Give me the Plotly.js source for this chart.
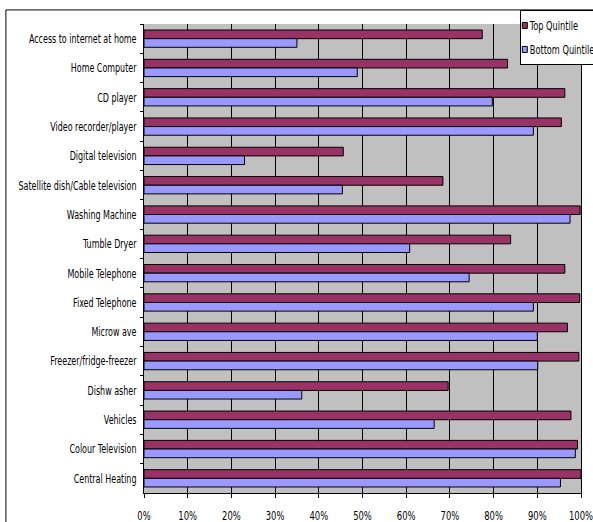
<!DOCTYPE html>
<html>
<head>
<meta charset="utf-8">
<script src="https://cdn.plot.ly/plotly-3.0.1.min.js"></script>
<style>
html,body{margin:0;padding:0;background:#fff;overflow:hidden;}
#chart{width:593px;height:522px;}
</style>
</head>
<body>
<div id="chart"></div>
<script>
const categories = [
  "Access to internet at home",
  "Home Computer",
  "CD player",
  "Video recorder/player",
  "Digital television",
  "Satellite dish/Cable television",
  "Washing Machine",
  "Tumble Dryer",
  "Mobile Telephone",
  "Fixed Telephone",
  "Microw ave",
  "Freezer/fridge-freezer",
  "Dishw asher",
  "Vehicles",
  "Colour Television",
  "Central Heating"
];
const topQuintile = [77.4, 83.2, 96.3, 95.5, 45.6, 68.4, 99.8, 83.9, 96.3, 99.7, 96.9, 99.5, 69.6, 97.7, 99.2, 100];
const bottomQuintile = [35.0, 48.8, 79.7, 89.1, 23.0, 45.4, 97.5, 60.8, 74.4, 89.1, 90.0, 90.1, 36.1, 66.4, 98.7, 95.3];
const seriesNames = ["Top Quintile", "Bottom Quintile"];
const tickVals = [0,10,20,30,40,50,60,70,80,90,100];
const tickText = ["0%","10%","20%","30%","40%","50%","60%","70%","80%","90%","100%"];

const FONT = "'DejaVu Sans Condensed', 'Liberation Sans', Arial, sans-serif";

const traces = [
  {type:"bar", orientation:"h", name:seriesNames[0], y:categories, x:topQuintile,
   marker:{color:"#993366", line:{color:"#000", width:1}}, legendgroup:"a"},
  {type:"bar", orientation:"h", name:seriesNames[1], y:categories, x:bottomQuintile,
   marker:{color:"#9999FF", line:{color:"#000", width:1}}, legendgroup:"b"}
];

const layout = {
  width:593, height:522,
  margin:{l:144, r:12, t:24, b:29, autoexpand:false},
  paper_bgcolor:"#fff",
  plot_bgcolor:"#C0C0C0",
  font:{family:FONT, size:12.5, color:"#000"},
  barmode:"group",
  bargap:0.41,
  bargroupgap:0,
  showlegend:true,
  legend:{x:0.86, xanchor:"left", y:1.03, yanchor:"top", bgcolor:"#fff",
          bordercolor:"#000", borderwidth:1, font:{family:FONT, size:12},
          traceorder:"grouped", tracegroupgap:5, itemwidth:30},
  xaxis:{range:[0,100], tickvals:tickVals, ticktext:tickText, showgrid:true,
         gridcolor:"#000", gridwidth:1, showline:true, linecolor:"#000", linewidth:1,
         ticks:"outside", ticklen:4, tickcolor:"#000", zeroline:false,
         tickfont:{size:13},
         ticklabelstandoff:6, ticklabeloverflow:"allow", fixedrange:true},
  yaxis:{autorange:"reversed", type:"category", showline:true, mirror:true, linecolor:"#000", linewidth:1,
         ticks:"outside", ticklen:3, tickcolor:"#000", tickson:"boundaries",
         showgrid:false, ticklabelstandoff:4, fixedrange:true},
  shapes:[{type:"rect", xref:"paper", yref:"paper", x0:-0.316, x1:1.1, y0:-0.2, y1:1.03,
           line:{color:"#000", width:1}, fillcolor:"rgba(0,0,0,0)", layer:"below"}]
};

function narrowText(el, anchorX, k) {
  const t = el.getAttribute("transform") || "";
  el.setAttribute("transform", t + " translate(" + anchorX + ",0) scale(" + k + ",1) translate(" + (-anchorX) + ",0)");
}

Plotly.newPlot("chart", traces, layout, {displayModeBar:false, staticPlot:true}).then(function(gd){
  // condensed (Arial Narrow-like) look for the category labels, scaled about their right end
  gd.querySelectorAll(".ytick text").forEach(function(el){
    narrowText(el, parseFloat(el.getAttribute("x")) || 0, 0.71);
  });
  // percentage labels, scaled about their centre
  gd.querySelectorAll(".xtick text").forEach(function(el){
    narrowText(el, parseFloat(el.getAttribute("x")) || 0, 0.72);
  });
  // compact Excel-like legend entries: small swatch at the box edge, text just after
  gd.querySelectorAll(".legend .traces").forEach(function(g){
    const txt = g.querySelector("text.legendtext");
    if (txt) { txt.setAttribute("x", 9); narrowText(txt, 9, 0.76); }
    g.querySelectorAll(".legendpoints path").forEach(function(p){
      p.setAttribute("d", "M2.5,3H-2.5V-3H2.5Z");
      p.setAttribute("transform", "translate(4,0)");
    });
  });
});
</script>
</body>
</html>
